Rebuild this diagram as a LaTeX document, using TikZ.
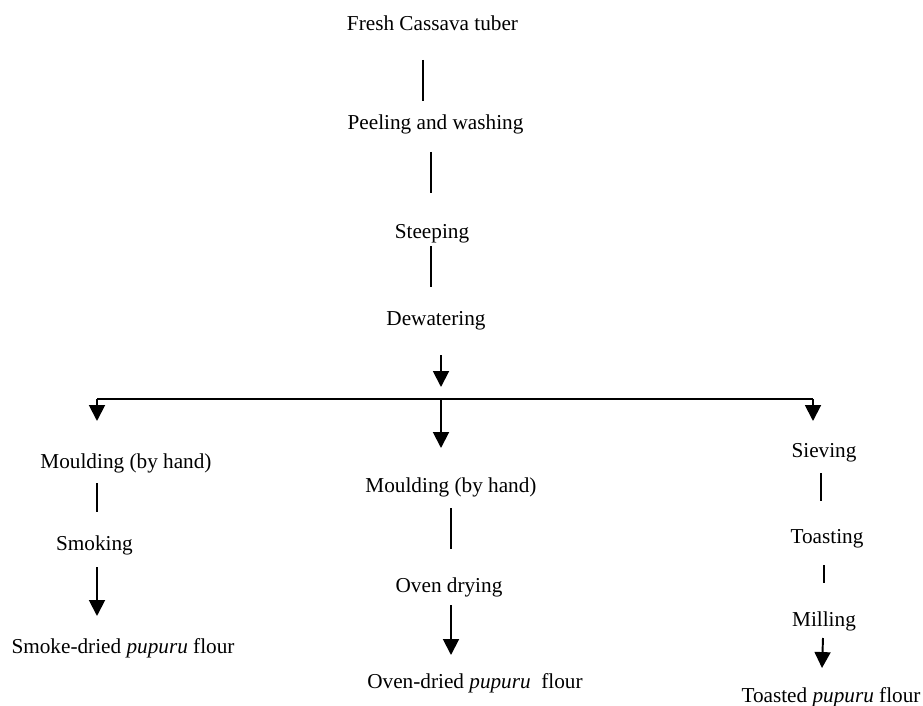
\documentclass[tikz,border=0pt]{standalone}
\usepackage{fontspec}
\setmainfont{Liberation Serif}
\usetikzlibrary{arrows.meta}

\tikzset{
  stage/.style={anchor=base, inner sep=0pt, font=\fontsize{12}{14}\selectfont},
  link/.style={black, line width=0.75pt},
  flow/.style={black, line width=1.1pt, -{Triangle[width=9pt,length=9pt]}}
}

\begin{document}
\begin{tikzpicture}[x=0.565pt,y=-0.565pt]
  \useasboundingbox (0,0) rectangle (923,706);

% main line
  \node[stage] (fresh)   at (432.5,31) {Fresh Cassava tuber};
  \node[stage] (peel)    at (435.5,130) {Peeling and washing};
  \node[stage] (steep)   at (432,238) {Steeping};
  \node[stage] (dewater) at (436,325) {Dewatering};
  \draw[link] ([shift={(-9.5,29)}]fresh.base) -- ([shift={(-12.5,-29)}]peel.base);
  \draw[link] ([shift={(-4.5,22)}]peel.base) -- ([shift={(-1,-45)}]steep.base);
  \draw[link] ([shift={(-1,8)}]steep.base) -- ([shift={(-5,-38)}]dewater.base);

% split into three
  \coordinate (barL)  at (97,399);
  \coordinate (split) at (441,399);
  \coordinate (barR)  at (813,399);
  \draw[flow] ([shift={(5,30)}]dewater.base) -- ([shift={(0,-12)}]split);
  \draw[black,line width=1.1pt] (barL) -- (barR);

% smoke-dried branch
  \node[stage] (mouldA)     at (126,468) {Moulding (by hand)};
  \node[stage] (smoke)      at (94.5,550) {Smoking};
  \node[stage] (smokeflour) at (123,653) {Smoke-dried \textit{pupuru} flour};
  \draw[flow] (barL) -- ([shift={(-29,-47)}]mouldA.base);
  \draw[link] ([shift={(-29,15)}]mouldA.base) -- ([shift={(2.5,-38)}]smoke.base);
  \draw[flow] ([shift={(2.5,17)}]smoke.base) -- ([shift={(-26,-37)}]smokeflour.base);

% oven-dried branch
  \node[stage] (mouldB)    at (451,492) {Moulding (by hand)};
  \node[stage] (oven)      at (449,592) {Oven drying};
  \node[stage] (ovenflour) at (475,688) {Oven-dried \textit{pupuru}\ \ flour};
  \draw[flow] (split) -- ([shift={(-10,-44)}]mouldB.base);
  \draw[link] ([shift={(0,16)}]mouldB.base) -- ([shift={(2,-43)}]oven.base);
  \draw[flow] ([shift={(2,13)}]oven.base) -- ([shift={(-24,-33)}]ovenflour.base);

% toasted branch
  \node[stage] (sieve)      at (824,457) {Sieving};
  \node[stage] (toast)      at (827,543) {Toasting};
  \node[stage] (mill)       at (824,626) {Milling};
  \node[stage] (toastflour) at (831,702) {Toasted \textit{pupuru} flour};
  \draw[flow] (barR) -- ([shift={(-11,-36)}]sieve.base);
  \draw[link] ([shift={(-3,16)}]sieve.base) -- ([shift={(-6,-42)}]toast.base);
  \draw[link] ([shift={(-3,22)}]toast.base) -- ([shift={(0,-43)}]mill.base);
  \draw[flow] ([shift={(-1,12)}]mill.base) -- ([shift={(-9,-34)}]toastflour.base);

\end{tikzpicture}
\end{document}
